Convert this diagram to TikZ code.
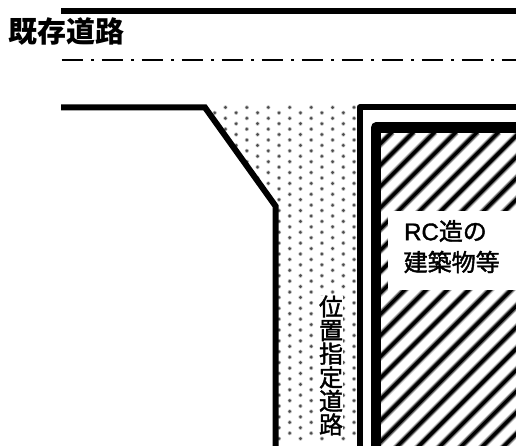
\documentclass[tikz,border=0pt]{standalone}
\usepackage{fontspec}
\newfontfamily\cjk{Noto Sans CJK JP}
\newfontfamily\cjkm[FakeBold=1.6]{Noto Sans CJK JP}
\newfontfamily\latm[FakeBold=1.6]{Liberation Sans}
\tikzset{
  road/.style={draw=black,line width=6pt,line join=miter},
  bld/.style={draw=black,line width=10.5pt,line join=round},
  dotmark/.style={fill=black!70},
  label/.style={text=black,inner sep=0pt}
}
\begin{document}
\begin{tikzpicture}[x=1pt,y=-1pt]
\useasboundingbox (0,0) rectangle (516,446);
\fill[white] (0,0) rectangle (516,446);
% dotted road surface
\begin{scope}
\clip (205,105) -- (360,105) -- (360,446) -- (275,446) -- (275,207) -- cycle;
\foreach \c in {-7,...,8}{
  \pgfmathsetmacro{\xx}{268.3+\c*10.72}
  \pgfmathsetmacro{\off}{isodd(\c)?5.4:0}
  \foreach \r in {-1,...,30}{
    \pgfmathsetmacro{\yy}{107.4+\off+\r*10.86}
    \fill[black!25] (\xx,\yy) circle (2.1pt);
    \fill[dotmark] (\xx,\yy) circle (1.5pt);
  }
}
\end{scope}
% hatching
\begin{scope}
\clip (381,132.5) rectangle (516,446);
\foreach \k in {0,...,30}{
  \pgfmathsetmacro{\xa}{307+\k*21.3}
  \draw[black!22,line width=7pt] (\xa,132) -- ({\xa-330},462);
  \draw[black!60,line width=5.2pt] (\xa,132) -- ({\xa-330},462);
  \draw[black,line width=3.2pt] (\xa,132) -- ({\xa-330},462);
}
\end{scope}
\fill[white] (388,211) rectangle (516,290);
% roads
\draw[road] (61,11) -- (516,11);
\draw[draw=black,line width=2.4pt,dash pattern=on 21pt off 8.5pt on 3pt off 7.5pt] (61.5,60) -- (516,60);
\draw[road] (61,107.5) -- (205,107.5) -- (275.5,206) -- (275.5,446);
\draw[road,line join=round] (359.5,446) -- (359.5,107.5) -- (516,107.5);
% building
\draw[bld] (376,446) -- (376,127.5) -- (516,127.5);
% labels
\node[label,font=\cjk\bfseries\fontsize{29}{29}\selectfont,anchor=west] (kizon) at (8.5,32) {既存道路};
\node[label,font=\latm\fontsize{24}{24}\selectfont,anchor=west] (rc) at (404,231) {RC\cjkm 造の};
\node[label,font=\cjkm\fontsize{24}{24}\selectfont,anchor=west] (kenchiku) at (403.5,262) {建築物等};
\node[label,fill=white,font=\cjkm\fontsize{24}{23.6}\selectfont,align=center,anchor=center] (ichi) at (331,365.5) {位\\置\\指\\定\\道\\路};
\end{tikzpicture}
\end{document}
